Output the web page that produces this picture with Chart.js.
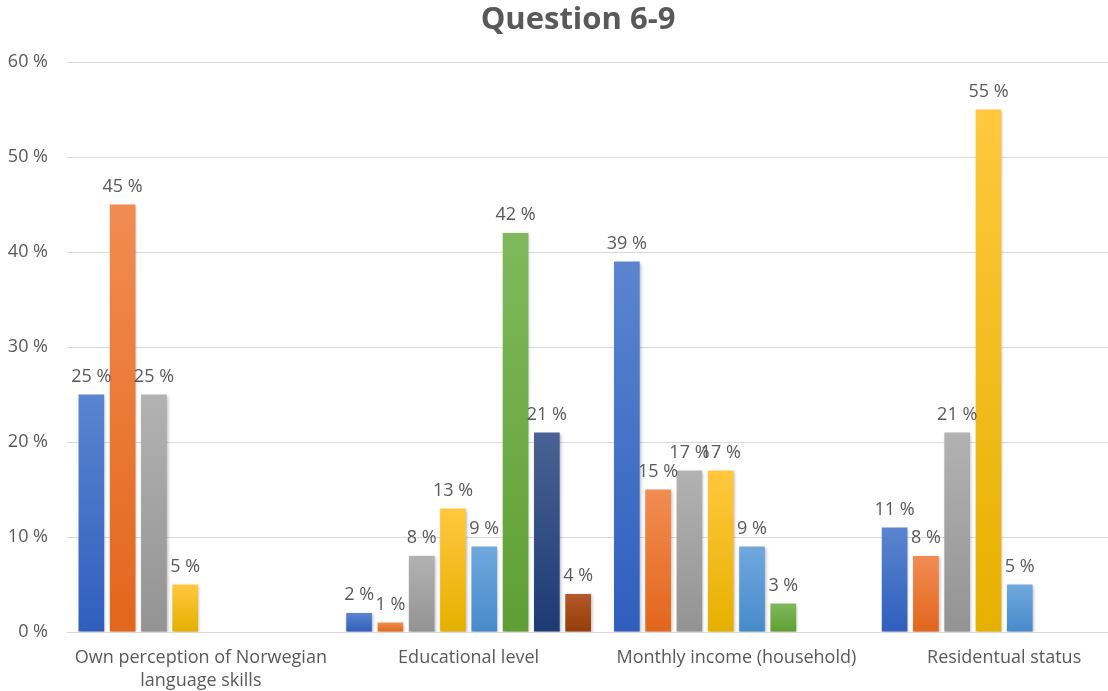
<!DOCTYPE html>
<html>
<head>
<meta charset="utf-8">
<script src="https://cdn.jsdelivr.net/npm/chart.js@4/dist/chart.umd.min.js"></script>
<style>
  html, body { margin: 0; padding: 0; background: #fff; overflow: hidden; }
  #wrap { width: 1156px; height: 691px; }
</style>
</head>
<body>
<div id="wrap"><canvas id="chart" width="1156" height="691"></canvas></div>
<script>
const chartTitle = 'Question 6-9';
const categories = [
  ['Own perception of Norwegian', 'language skills'],
  'Educational level',
  'Monthly income (household)',
  'Residentual status'
];
const series1 = [25, 2, 39, 11];
const series2 = [45, 1, 15, 8];
const series3 = [25, 8, 17, 21];
const series4 = [5, 13, 17, 55];
const series5 = [null, 9, 9, 5];
const series6 = [null, 42, 3, null];
const series7 = [null, 21, null, null];
const series8 = [null, 4, null, null];
const yTicks = [0, 10, 20, 30, 40, 50, 60];

// top / bottom colours of each bar gradient
const palette = [
  ['#5b85d0', '#2f5ebd'],
  ['#f28c52', '#e2661b'],
  ['#b2b2b2', '#939393'],
  ['#ffc83e', '#e6b000'],
  ['#70a8de', '#478acb'],
  ['#80b95b', '#5f9e34'],
  ['#4a6293', '#1c3a74'],
  ['#b3582b', '#943d06']
];

const allSeries = [series1, series2, series3, series4, series5, series6, series7, series8];

function barGradient(idx) {
  return function (ctx) {
    const chart = ctx.chart;
    const v = ctx.raw;
    const y = chart.scales.y;
    if (v == null || !y || !chart.chartArea) return palette[idx][0];
    const top = y.getPixelForValue(v);
    const bottom = y.getPixelForValue(0);
    const g = chart.ctx.createLinearGradient(0, top, 0, bottom);
    g.addColorStop(0, palette[idx][0]);
    g.addColorStop(1, palette[idx][1]);
    return g;
  };
}

const valueLabels = {
  id: 'valueLabels',
  beforeDatasetsDraw(chart) {
    const c = chart.ctx;
    c.save();
    c.shadowColor = 'rgba(0,0,0,0.28)';
    c.shadowBlur = 3;
    c.shadowOffsetX = 1;
    c.shadowOffsetY = 1;
  },
  afterDatasetsDraw(chart) {
    const c = chart.ctx;
    c.restore();
    c.save();
    c.font = '18px "Open Sans", sans-serif';
    c.fillStyle = '#595959';
    c.textAlign = 'center';
    c.textBaseline = 'alphabetic';
    chart.data.datasets.forEach((ds, i) => {
      const meta = chart.getDatasetMeta(i);
      meta.data.forEach((bar, j) => {
        const v = ds.data[j];
        if (v == null) return;
        c.fillText(v + ' %', bar.x, bar.y - 13);
      });
    });
    // title, centred on the whole canvas
    c.font = 'bold 31px "Open Sans", sans-serif';
    c.textBaseline = 'middle';
    c.fillText(chartTitle, chart.width / 2, 20);
    c.restore();
  }
};

new Chart(document.getElementById('chart'), {
  type: 'bar',
  data: {
    labels: categories,
    datasets: allSeries.map((d, i) => ({
      label: 'Series ' + (i + 1),
      data: d,
      backgroundColor: barGradient(i),
      borderWidth: 0,
      categoryPercentage: 0.935,
      barPercentage: 0.82
    }))
  },
  options: {
    responsive: false,
    animation: false,
    layout: { padding: { left: 0, right: 18, top: 62, bottom: 0 } },
    plugins: {
      legend: { display: false },
      tooltip: { enabled: false },
      title: { display: false }
    },
    scales: {
      x: {
        grid: { display: false, drawTicks: false },
        border: { color: '#d9d9d9', width: 1 },
        ticks: {
          color: '#595959',
          padding: 14,
          maxRotation: 0,
          autoSkip: false,
          font: { family: '"Open Sans", sans-serif', size: 18, lineHeight: 1.28 }
        },
        afterFit(scale) { scale.height = 59; }
      },
      y: {
        min: 0,
        max: 60,
        afterBuildTicks(scale) { scale.ticks = yTicks.map(v => ({ value: v })); },
        grid: { color: '#d9d9d9', drawTicks: false },
        border: { display: false },
        ticks: {
          color: '#595959',
          padding: 19,
          font: { family: '"Open Sans", sans-serif', size: 18 },
          callback: v => v + ' %'
        },
        afterFit(scale) { scale.width = 67; }
      }
    }
  },
  plugins: [valueLabels]
});
</script>
</body>
</html>
